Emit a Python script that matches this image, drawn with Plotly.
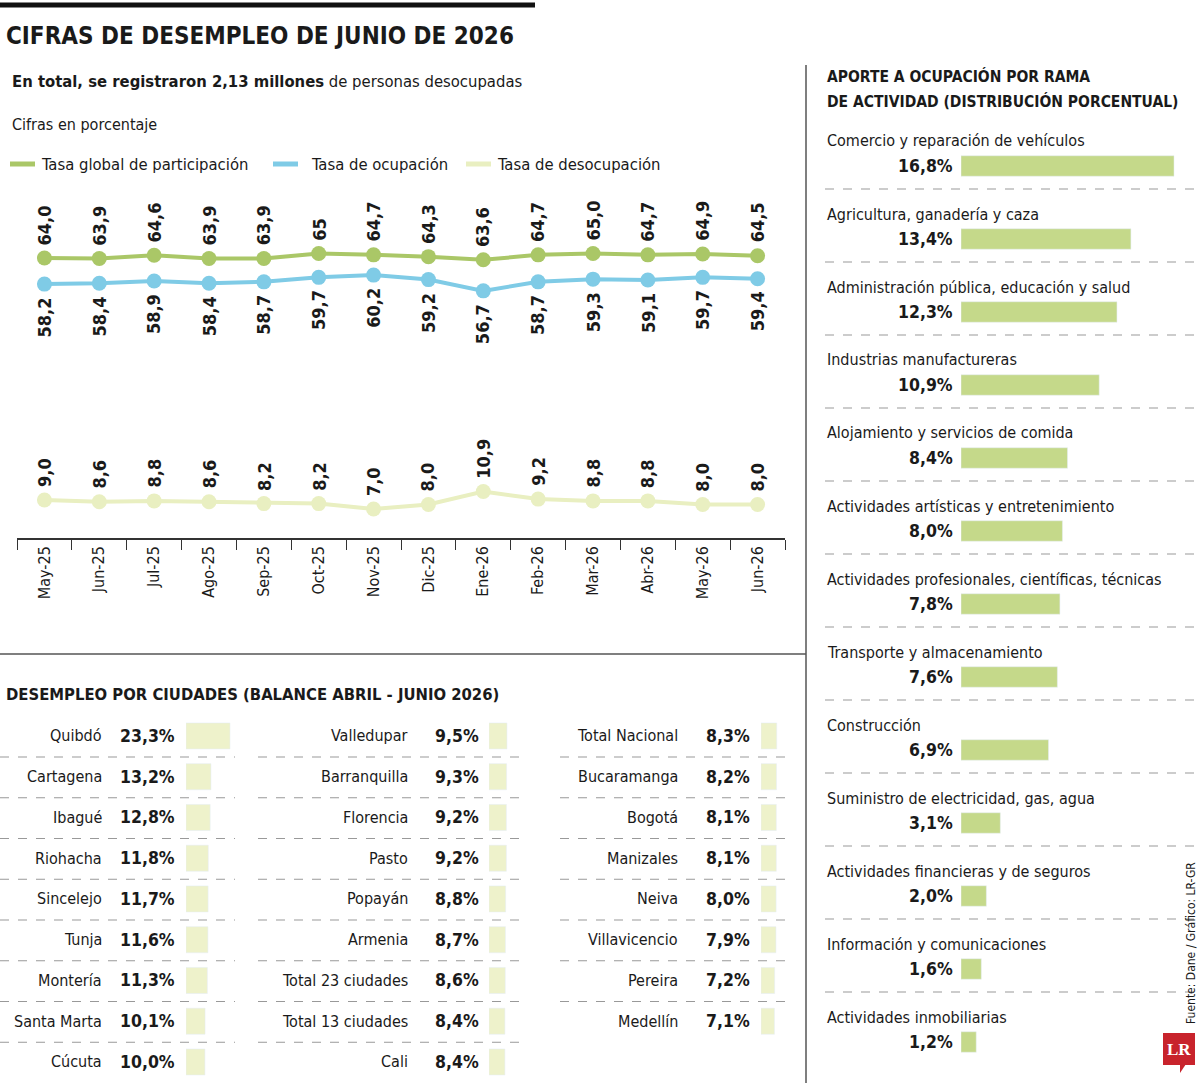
import plotly.graph_objects as go

W, H = 1200, 1083
FONT = "DejaVu Sans Condensed, sans-serif"

# ---- data ----
months = ["May-25", "Jun-25", "Jul-25", "Ago-25", "Sep-25", "Oct-25", "Nov-25",
          "Dic-25", "Ene-26", "Feb-26", "Mar-26", "Abr-26", "May-26", "Jun-26"]
participacion = [64.0, 63.9, 64.6, 63.9, 63.9, 65.0, 64.7, 64.3, 63.6, 64.7, 65.0, 64.7, 64.9, 64.5]
participacion_lbl = ["64,0", "63,9", "64,6", "63,9", "63,9", "65", "64,7", "64,3", "63,6", "64,7",
                     "65,0", "64,7", "64,9", "64,5"]
ocupacion = [58.2, 58.4, 58.9, 58.4, 58.7, 59.7, 60.2, 59.2, 56.7, 58.7, 59.3, 59.1, 59.7, 59.4]
desocupacion = [9.0, 8.6, 8.8, 8.6, 8.2, 8.2, 7.0, 8.0, 10.9, 9.2, 8.8, 8.8, 8.0, 8.0]

ciudades_1 = ["Quibdó", "Cartagena", "Ibagué", "Riohacha", "Sincelejo", "Tunja", "Montería",
              "Santa Marta", "Cúcuta"]
valores_1 = [23.3, 13.2, 12.8, 11.8, 11.7, 11.6, 11.3, 10.1, 10.0]
ciudades_2 = ["Valledupar", "Barranquilla", "Florencia", "Pasto", "Popayán", "Armenia",
              "Total 23 ciudades", "Total 13 ciudades", "Cali"]
valores_2 = [9.5, 9.3, 9.2, 9.2, 8.8, 8.7, 8.6, 8.4, 8.4]
ciudades_3 = ["Total Nacional", "Bucaramanga", "Bogotá", "Manizales", "Neiva", "Villavicencio",
              "Pereira", "Medellín"]
valores_3 = [8.3, 8.2, 8.1, 8.1, 8.0, 7.9, 7.2, 7.1]

ramas = ["Comercio y reparación de vehículos", "Agricultura, ganadería y caza",
         "Administración pública, educación y salud", "Industrias manufactureras",
         "Alojamiento y servicios de comida", "Actividades artísticas y entretenimiento",
         "Actividades profesionales, científicas, técnicas", "Transporte y almacenamiento",
         "Construcción", "Suministro de electricidad, gas, agua",
         "Actividades financieras y de seguros", "Información y comunicaciones",
         "Actividades inmobiliarias"]
aporte = [16.8, 13.4, 12.3, 10.9, 8.4, 8.0, 7.8, 7.6, 6.9, 3.1, 2.0, 1.6, 1.2]

GREEN = "#aac767"
BLUE = "#7fcbe6"
LIGHT = "#e9efc1"
CITY = "#eef2cb"
RAMA = "#c5d98a"
INK = "#1a1a1a"


def px(x):
    return x / W


def py(y):
    return 1 - y / H


def fmt(v):
    return f"{v:.1f}".replace(".", ",")


fig = go.Figure()
fig.add_trace(go.Scatter(x=months, y=participacion, mode="lines+markers", xaxis="x", yaxis="y",
                         line=dict(color=GREEN, width=4), marker=dict(size=15, color=GREEN)))
fig.add_trace(go.Scatter(x=months, y=ocupacion, mode="lines+markers", xaxis="x", yaxis="y",
                         line=dict(color=BLUE, width=4), marker=dict(size=15, color=BLUE)))
fig.add_trace(go.Scatter(x=months, y=desocupacion, mode="lines+markers", xaxis="x", yaxis="y2",
                         line=dict(color=LIGHT, width=4), marker=dict(size=15, color=LIGHT)))

# city bars
for i, (names, vals) in enumerate([(ciudades_1, valores_1), (ciudades_2, valores_2),
                                   (ciudades_3, valores_3)]):
    n = i + 3
    fig.add_trace(go.Bar(x=vals, y=names, orientation="h", marker_color=CITY,
                         xaxis=f"x{n}", yaxis=f"y{n}", width=0.64))
fig.add_trace(go.Bar(x=aporte, y=ramas, orientation="h", marker_color=RAMA,
                     xaxis="x6", yaxis="y6", width=0.28))

ann = []
shapes = []


def text(x, y, s, size=20, bold=False, xanchor="left", yanchor="middle", color=INK, angle=0,
         **kw):
    ann.append(dict(x=px(x) if "xref" not in kw else x, y=py(y) if "yref" not in kw else y,
                    xref=kw.pop("xref", "paper"), yref=kw.pop("yref", "paper"),
                    text=f"<b>{s}</b>" if bold else s, showarrow=False, textangle=angle,
                    xanchor=xanchor, yanchor=yanchor,
                    font=dict(family=FONT, size=size, color=color), **kw))


# header
shapes.append(dict(type="line", xref="paper", yref="paper", x0=0, x1=px(535), y0=py(5), y1=py(5),
                   line=dict(color="#111", width=5)))
text(4, 36, "CIFRAS DE DESEMPLEO DE JUNIO DE 2026", size=24, bold=True)
text(10, 82, "<b>En total, se registraron 2,13 millones</b> de personas desocupadas", size=16.5)
text(10, 124, "Cifras en porcentaje", size=16)
for x0, label, col in [(10, "Tasa global de participación", GREEN), (273, "Tasa de ocupación", BLUE),
                       (466, "Tasa de desocupación", LIGHT)]:
    shapes.append(dict(type="line", xref="paper", yref="paper", x0=px(x0), x1=px(x0 + 25),
                       y0=py(164), y1=py(164), line=dict(color=col, width=5)))
    text(x0 + 29 if col != BLUE else x0 + 36, 164, label, size=16.5)

# line value labels
for m, v, lbl in zip(months, participacion, participacion_lbl):
    text(m, v, lbl, size=18, bold=True, angle=-90, xanchor="center", yanchor="bottom",
         xref="x", yref="y", yshift=11)
for m, v in zip(months, ocupacion):
    text(m, v, fmt(v), size=18, bold=True, angle=-90, xanchor="center", yanchor="top",
         xref="x", yref="y", yshift=-11)
for m, v in zip(months, desocupacion):
    text(m, v, fmt(v), size=18, bold=True, angle=-90, xanchor="center", yanchor="bottom",
         xref="x", yref="y2", yshift=11)

# dividers
shapes.append(dict(type="line", xref="paper", yref="paper", x0=0, x1=px(806), y0=py(654),
                   y1=py(654), line=dict(color="#555", width=1.5)))
shapes.append(dict(type="line", xref="paper", yref="paper", x0=px(806), x1=px(806), y0=py(65),
                   y1=0, line=dict(color="#555", width=1.5)))

# city table
text(4, 694, "DESEMPLEO POR CIUDADES (BALANCE ABRIL - JUNIO 2026)", size=16.5, bold=True)
cols = [(ciudades_1, valores_1, 104, 177, 0, 235), (ciudades_2, valores_2, 410, 481, 258, 520),
        (ciudades_3, valores_3, 680, 752, 560, 790)]
for i, (names, vals, name_x, val_x, l0, l1) in enumerate(cols):
    n = i + 3
    for k, (nm, v) in enumerate(zip(names, vals)):
        text(px(name_x), nm, nm, size=16, xanchor="right", xref="paper", yref=f"y{n}")
        text(px(val_x), nm, fmt(v) + "%", size=17.5, bold=True, xanchor="right", xref="paper",
             yref=f"y{n}")
        if k < len(names) - 1:
            yy = 757 + 40.75 * k
            shapes.append(dict(type="line", xref="paper", yref="paper", x0=px(l0), x1=px(l1),
                               y0=py(yy), y1=py(yy), line=dict(color="#999", width=1, dash="dash")))

# right panel
text(825, 76, "APORTE A OCUPACIÓN POR RAMA", size=15.5, bold=True)
text(825, 102, "DE ACTIVIDAD (DISTRIBUCIÓN PORCENTUAL)", size=15.5, bold=True)
for k, (r, v) in enumerate(zip(ramas, aporte)):
    text(825, 141 + 73 * k, r, size=16)
    text(px(955), r, fmt(v) + "%", size=17.5, bold=True, xanchor="right", xref="paper", yref="y6")
    if k < len(ramas) - 1:
        yy = 189 + 73 * k
        shapes.append(dict(type="line", xref="paper", yref="paper", x0=px(825), x1=1,
                           y0=py(yy), y1=py(yy), line=dict(color="#999", width=1, dash="dash")))

text(1191, 943, "Fuente: Dane / Gráfico: LR-GR", size=12, angle=-90, xanchor="center")
shapes.append(dict(type="rect", xref="paper", yref="paper", x0=px(1163), x1=px(1195), y0=py(1033),
                   y1=py(1065), fillcolor="#c8232c", line=dict(width=0), layer="below"))
shapes.append(dict(type="path", xref="paper", yref="paper",
                   path=f"M {px(1180)},{py(1064)} L {px(1186)},{py(1064)} L {px(1180)},{py(1073)} Z",
                   fillcolor="#c8232c", line=dict(width=0), layer="below"))
ann.append(dict(x=px(1179), y=py(1049), xref="paper", yref="paper", text="<b>LR</b>",
                xanchor="center", yanchor="middle", showarrow=False,
                font=dict(family="Liberation Serif, serif", size=17, color="white")))

# axes
top_range = [64 - 62 / 4.5, 64 + 58 / 4.5]
bot_range = [9 - 38 / 4.5, 9 + 40 / 4.5]
layout_axes = dict(
    xaxis=dict(domain=[px(17), px(785)], anchor="y2", type="category", range=[-0.5, 13.5],
               showline=True, linecolor="#333", linewidth=1.5, ticks="outside", tickson="boundaries",
               ticklen=10, tickcolor="#333", tickangle=-90, showgrid=False, zeroline=False,
               tickfont=dict(family=FONT, size=16, color=INK)),
    yaxis=dict(domain=[py(320), py(200)], range=top_range, visible=False),
    yaxis2=dict(domain=[py(538), py(460)], range=bot_range, visible=False),
)
for i, (names, vals, name_x, val_x, l0, l1) in enumerate(cols):
    n = i + 3
    bx = [186, 489, 761][i]
    layout_axes[f"xaxis{n}"] = dict(domain=[px(bx), px(bx + 300)], anchor=f"y{n}",
                                    range=[0, 300 / 1.89], visible=False)
    layout_axes[f"yaxis{n}"] = dict(domain=[py(715.6 + 40.75 * 9), py(715.6)], anchor=f"x{n}",
                                    type="category", categoryorder="array", categoryarray=names,
                                    range=[8.5, -0.5], visible=False)
layout_axes["xaxis6"] = dict(domain=[px(961), px(1200)], anchor="y6", range=[0, 239 / 12.68],
                             visible=False)
layout_axes["yaxis6"] = dict(domain=[py(1078.5), py(129.5)], anchor="x6", type="category",
                             categoryorder="array", categoryarray=ramas, range=[12.5, -0.5],
                             visible=False)

fig.update_layout(width=W, height=H, margin=dict(l=0, r=0, t=0, b=0), showlegend=False,
                  paper_bgcolor="white", plot_bgcolor="rgba(0,0,0,0)", annotations=ann,
                  shapes=shapes, **layout_axes)
fig.write_html("out.html", config={"displayModeBar": False},
               post_script="document.body.style.margin='0';")
